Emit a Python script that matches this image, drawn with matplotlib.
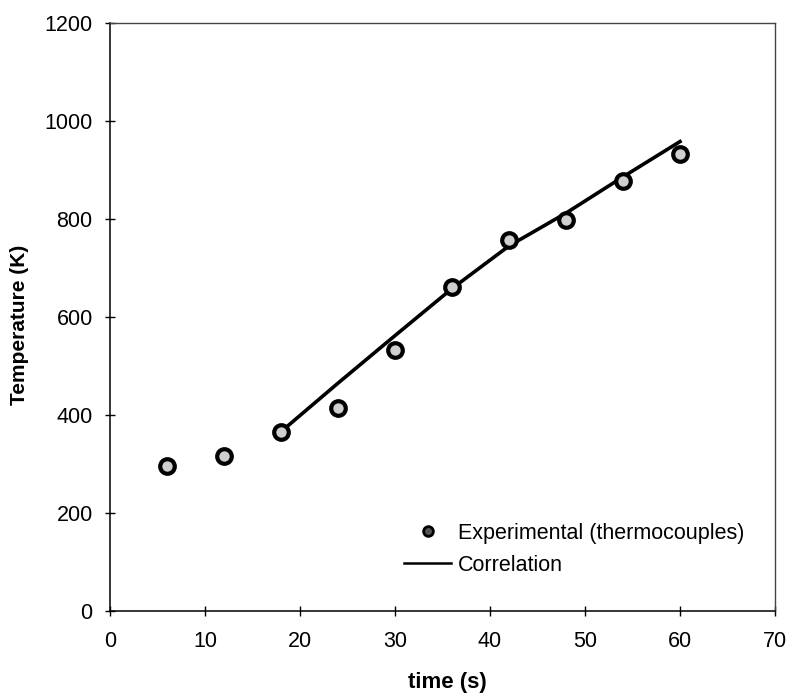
import matplotlib
matplotlib.use("Agg")
import matplotlib.pyplot as plt
from matplotlib.lines import Line2D

plt.rcParams['font.family'] = ['Liberation Sans', 'DejaVu Sans']

# Experimental data (thermocouples)
exp_time = [6, 12, 18, 24, 30, 36, 42, 48, 54, 60]
exp_temp = [296, 316, 366, 415, 533, 661, 757, 798, 878, 933]

# Correlation curve
corr_time = [18, 24, 30, 36, 42, 48, 54, 60]
corr_temp = [366, 465, 562, 658, 745, 812, 886, 958]

x_ticks = [0, 10, 20, 30, 40, 50, 60, 70]
y_ticks = [0, 200, 400, 600, 800, 1000, 1200]

fig = plt.figure(figsize=(7.88, 6.96), dpi=100)
ax = fig.add_axes([0.1396, 0.1221, 0.8439, 0.8449])

ax.plot(corr_time, corr_temp, color='black', lw=2.6, zorder=2)
ax.plot(exp_time, exp_temp, linestyle='none', marker='o', markersize=10.5,
        markerfacecolor='#cfcfcf', markeredgecolor='black', markeredgewidth=3.0, zorder=3)

ax.set_xlim(0, 70)
ax.set_ylim(0, 1200)
ax.set_xticks(x_ticks)
ax.set_yticks(y_ticks)
ax.tick_params(axis='both', direction='inout', length=7, width=1, labelsize=15.5, color='black')
ax.tick_params(axis='x', pad=11)
ax.tick_params(axis='y', pad=9)

for s in ['left', 'bottom']:
    ax.spines[s].set_linewidth(1.1)
    ax.spines[s].set_color('black')
for s in ['top', 'right']:
    ax.spines[s].set_linewidth(1.0)
    ax.spines[s].set_color('#444444')

ax.set_xlabel('time (s)', fontsize=16, fontweight='bold')
ax.xaxis.set_label_coords(0.508, -0.104)
ax.set_ylabel('Temperature (K)', fontsize=15, fontweight='bold')
ax.yaxis.set_label_coords(-0.122, 0.486)

handles = [
    Line2D([], [], linestyle='none', marker='o', markersize=7, markerfacecolor='#555555',
           markeredgecolor='black', markeredgewidth=2),
    Line2D([], [], color='black', lw=1.8),
]
leg = ax.legend(handles, ['Experimental (thermocouples)', 'Correlation'],
                loc='lower left', bbox_to_anchor=(0.413, 0.027), frameon=False,
                fontsize=15.5, handlelength=2.2, handletextpad=0.3, labelspacing=0.5)

fig.savefig('out.png', dpi=100)
